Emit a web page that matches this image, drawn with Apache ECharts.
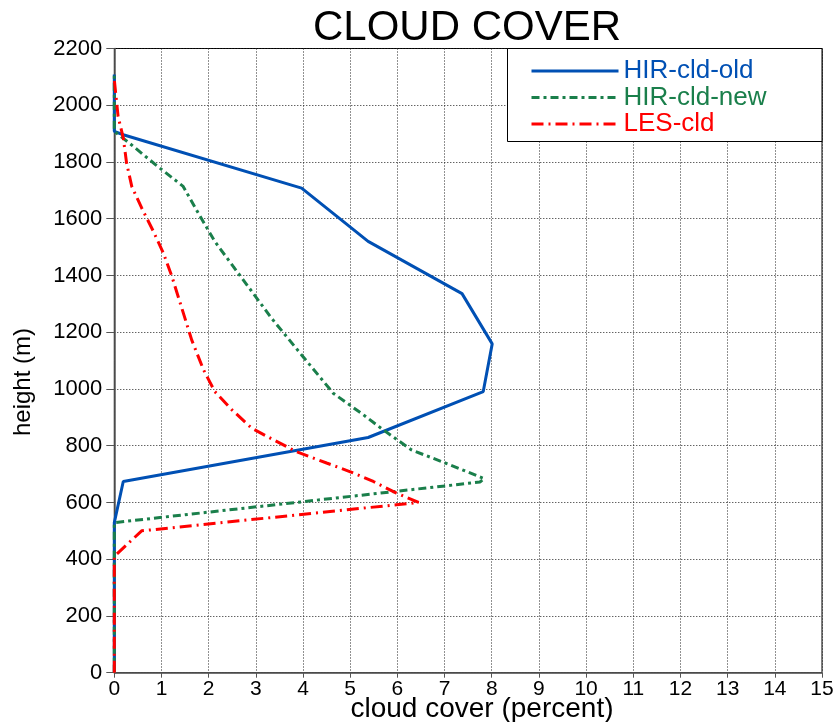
<!DOCTYPE html>
<html>
<head>
<meta charset="utf-8">
<script src="https://cdn.jsdelivr.net/npm/echarts@6.0.0/dist/echarts.min.js"></script>
<style>
  html, body { margin: 0; padding: 0; background: #fff; }
  #chart { width: 837px; height: 722px; }
</style>
</head>
<body>
<div id="chart"></div>
<script>
// ---- data (cloud cover in percent vs. height in m) ----
var seriesNames = ['HIR-cld-old', 'HIR-cld-new', 'LES-cld'];

var hirOldCover  = [0, 0, 0.19, 5.38, 7.82, 8.01, 7.37, 5.38, 3.97, 0.19, 0, 0];
var hirOldHeight = [0, 529, 674, 829, 991, 1159, 1336, 1520, 1708, 1896, 1908, 2108];

var hirNewCover  = [0, 0, 7.75, 7.84, 7.11, 6.30, 5.70, 5.28, 4.64, 3.97, 3.33, 2.94, 2.52, 2.13, 1.78, 1.46, 0.90, 0.33, 0, 0];
var hirNewHeight = [0, 529, 672, 684, 733, 785, 856, 909, 985, 1120, 1250, 1338, 1432, 1520, 1620, 1714, 1787, 1865, 1908, 2108];

var lesCover  = [0, 0, 0.58, 5.98, 6.45, 5.98, 5.49, 4.99, 4.50, 3.86, 3.37, 2.91, 2.49, 2.13, 1.89, 1.64, 1.53, 1.22, 1.04, 0.83, 0.58, 0.37, 0.26, 0.19, 0.08, 0];
var lesHeight = [0, 410, 500, 592, 600, 633, 674, 709, 739, 779, 821, 862, 927, 991, 1068, 1173, 1232, 1397, 1479, 1555, 1638, 1714, 1797, 1885, 1961, 2090];

var xTicks = [0, 15, 1];      // min, max, interval
var yTicks = [0, 2200, 200];  // min, max, interval

function zip(xs, ys) { return xs.map(function (x, i) { return [x, ys[i]]; }); }

var FONT = 'Liberation Sans, Arial, sans-serif';
var colors = ['#0050b4', '#1a7f4b', '#ff0000'];

var chart = echarts.init(document.getElementById('chart'), null, { renderer: 'canvas' });

var option = {
  animation: false,
  backgroundColor: '#fff',
  title: {
    text: 'CLOUD COVER',
    left: 308,
    top: 2,
    textStyle: { fontFamily: FONT, fontSize: 42, fontWeight: 'normal', color: '#000' }
  },
  grid: {
    left: 114.3, right: 15, top: 48.5, bottom: 49.3,
    show: true, borderColor: '#000', borderWidth: 1, backgroundColor: 'transparent'
  },
  legend: {
    orient: 'vertical',
    left: 530,
    top: 58,
    z: 20,
    itemWidth: 87,
    itemHeight: 14,
    itemGap: 0.5,
    padding: 0,
    itemStyle: { opacity: 0 },
    lineStyle: { width: 3 },
    data: seriesNames.map(function (n, i) {
      return { name: n, textStyle: { color: colors[i] }, itemStyle: { opacity: 0 } };
    }),
    textStyle: { fontFamily: FONT, fontSize: 26, lineHeight: 23 }
  },
  xAxis: {
    type: 'value',
    min: xTicks[0], max: xTicks[1], interval: xTicks[2],
    axisLine: { show: true, onZero: false, lineStyle: { color: '#555', width: 1.5 } },
    axisTick: { show: true, inside: false, length: 5, lineStyle: { color: '#555' } },
    axisLabel: { color: '#000', fontFamily: FONT, fontSize: 21, margin: 6,
      formatter: function (v) { return String(v); } },
    splitLine: { show: true, lineStyle: { color: '#222', type: [1, 2], width: 1 } }
  },
  yAxis: {
    type: 'value',
    min: yTicks[0], max: yTicks[1], interval: yTicks[2],
    axisLine: { show: true, onZero: false, lineStyle: { color: '#555', width: 1.5 } },
    axisTick: { show: true, inside: false, length: 8, lineStyle: { color: '#555' } },
    axisLabel: { color: '#000', fontFamily: FONT, fontSize: 22, margin: 12,
      formatter: function (v) { return String(v); } },
    splitLine: { show: true, lineStyle: { color: '#222', type: [1, 2], width: 1 } }
  },
  graphic: [
    {
      type: 'rect', z: 10,
      shape: { x: 507.5, y: 48.5, width: 314.5, height: 93 },
      style: { fill: '#fff', stroke: '#000', lineWidth: 1 }
    },
    {
      type: 'text', z: 10,
      x: 482, y: 709,
      style: { text: 'cloud cover (percent)', font: '28px ' + FONT, fill: '#000', align: 'center', verticalAlign: 'middle' }
    },
    {
      type: 'text', z: 10,
      x: 23, y: 382, rotation: Math.PI / 2,
      style: { text: 'height (m)', font: '24px ' + FONT, fill: '#000', align: 'center', verticalAlign: 'middle' }
    }
  ],
  series: [
    {
      name: seriesNames[0], type: 'line', showSymbol: false, symbol: 'none',
      data: zip(hirOldCover, hirOldHeight),
      lineStyle: { color: colors[0], width: 3, type: 'solid' },
      itemStyle: { color: colors[0] }
    },
    {
      name: seriesNames[1], type: 'line', showSymbol: false, symbol: 'none',
      data: zip(hirNewCover, hirNewHeight),
      lineStyle: { color: colors[1], width: 3, type: [8, 4, 3, 4] },
      itemStyle: { color: colors[1] }
    },
    {
      name: seriesNames[2], type: 'line', showSymbol: false, symbol: 'none',
      data: zip(lesCover, lesHeight),
      lineStyle: { color: colors[2], width: 3, type: [12, 5, 2, 5] },
      itemStyle: { color: colors[2] }
    }
  ]
};

chart.setOption(option);
</script>
</body>
</html>
